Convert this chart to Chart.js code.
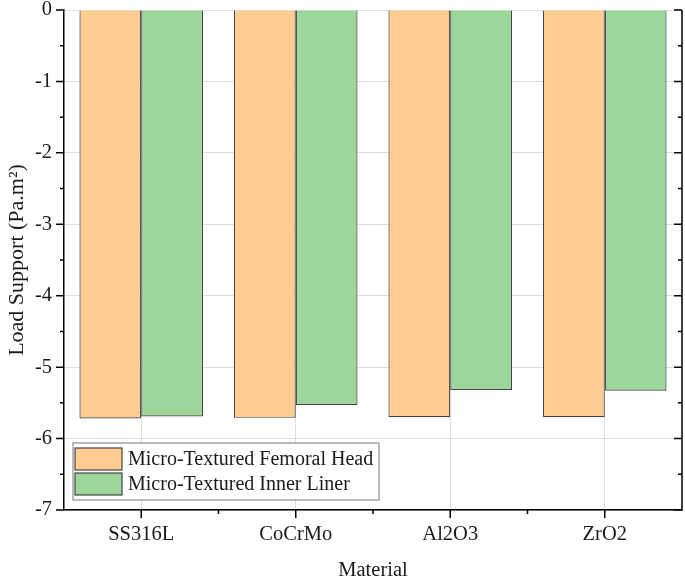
<!DOCTYPE html>
<html>
<head>
<meta charset="utf-8">
<script src="https://cdn.jsdelivr.net/npm/chart.js@4.4.0/dist/chart.umd.min.js"></script>
<style>
  body { margin: 0; background: #fff; }
  #wrap { width: 685px; height: 580px; }
</style>
</head>
<body>
<div id="wrap"><canvas id="myChart"></canvas></div>
<script>
const materials = ['SS316L', 'CoCrMo', 'Al2O3', 'ZrO2'];
const femoralHead = [-5.72, -5.71, -5.70, -5.70];
const innerLiner = [-5.69, -5.53, -5.32, -5.33];
const yTicks = [0, -1, -2, -3, -4, -5, -6, -7];

const serif = 'Liberation Serif';
const ink = '#1a1a1a';

// axis ticks (major + minor), legend box
const decorations = {
    id: 'decorations',
    afterDraw(chart) {
        const ctx = chart.ctx;
        const a = chart.chartArea;
        const x = chart.scales.x;
        const y = chart.scales.y;
        ctx.save();
        ctx.strokeStyle = '#000';
        ctx.lineWidth = 1.5;
        ctx.beginPath();
        // y ticks, left outward, right inward
        for (let v = 0; v >= -7; v -= 0.5) {
            const py = y.getPixelForValue(v);
            const len = Number.isInteger(v) ? 8 : 4;
            ctx.moveTo(a.left - len, py);
            ctx.lineTo(a.left, py);
            ctx.moveTo(a.right, py);
            ctx.lineTo(a.right - len, py);
        }
        // x ticks
        materials.forEach((m, i) => {
            const px = x.getPixelForValue(i);
            ctx.moveTo(px, a.bottom);
            ctx.lineTo(px, a.bottom + 8);
            if (i < materials.length - 1) {
                const mx = (px + x.getPixelForValue(i + 1)) / 2;
                ctx.moveTo(mx, a.bottom);
                ctx.lineTo(mx, a.bottom + 4);
            }
        });
        // right axis line
        ctx.moveTo(a.right, a.top);
        ctx.lineTo(a.right, a.bottom);
        ctx.stroke();

        // legend
        const lx = 73, ly = 443, lw = 306, lh = 57;
        ctx.fillStyle = '#fff';
        ctx.fillRect(lx, ly, lw, lh);
        ctx.strokeStyle = '#777';
        ctx.lineWidth = 1;
        ctx.strokeRect(lx, ly, lw, lh);
        ctx.font = '20px ' + serif;
        ctx.textBaseline = 'middle';
        chart.data.datasets.forEach((ds, i) => {
            const ry = ly + 5 + i * 25;
            ctx.fillStyle = ds.backgroundColor;
            ctx.fillRect(lx + 2, ry, 47, 22);
            ctx.strokeStyle = '#444';
            ctx.lineWidth = 1.2;
            ctx.strokeRect(lx + 2, ry, 47, 22);
            ctx.fillStyle = ink;
            ctx.fillText(ds.label, lx + 55, ry + 12);
        });
        ctx.restore();
    }
};

new Chart(document.getElementById('myChart'), {
    type: 'bar',
    data: {
        labels: materials,
        datasets: [{
            label: 'Micro-Textured Femoral Head',
            data: femoralHead,
            backgroundColor: '#FFCC91',
            borderColor: '#444',
            borderWidth: 1.2
        }, {
            label: 'Micro-Textured Inner Liner',
            data: innerLiner,
            backgroundColor: '#9DD69B',
            borderColor: '#444',
            borderWidth: 1.2
        }]
    },
    options: {
        responsive: true,
        maintainAspectRatio: false,
        animation: false,
        categoryPercentage: 0.8,
        barPercentage: 1.0,
        layout: { padding: { top: 10, right: 3, left: 0, bottom: 0 } },
        plugins: {
            legend: { display: false },
            tooltip: { enabled: false }
        },
        scales: {
            x: {
                grid: { color: '#ddd', lineWidth: 1, drawTicks: false, offset: false },
                border: { color: '#000', width: 1.5 },
                ticks: { color: ink, font: { family: serif, size: 20.5 }, padding: 12 },
                title: {
                    display: true, text: 'Material', color: ink,
                    font: { family: serif, size: 20.5 }, padding: { top: 4, bottom: -3 }
                },
                afterFit(scale) { scale.height = 70; }
            },
            y: {
                min: -7,
                max: 0,
                afterBuildTicks(scale) { scale.ticks = yTicks.map(v => ({ value: v })); },
                grid: { color: '#ddd', lineWidth: 1, drawTicks: false },
                border: { color: '#000', width: 1.5 },
                ticks: { color: ink, font: { family: serif, size: 20.5 }, padding: 12 },
                title: {
                    display: true, text: 'Load Support (Pa.m²)', color: ink,
                    font: { family: serif, size: 22 }, padding: { top: 4, bottom: 0 }
                },
                afterFit(scale) {
                    scale.width = 64;
                    scale.paddingTop = 0;
                    scale.paddingBottom = 0;
                }
            }
        }
    },
    plugins: [decorations]
});
</script>
</body>
</html>
